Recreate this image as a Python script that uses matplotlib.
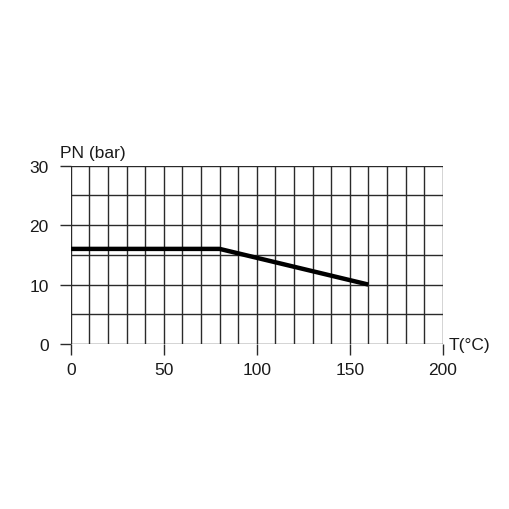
import matplotlib.pyplot as plt
import numpy as np

plt.rcParams['font.family'] = ['Liberation Sans', 'DejaVu Sans']

# pressure rating vs temperature
temp = [0, 80, 160]
pn = [16, 16, 10]

x_major = [0, 50, 100, 150, 200]
y_major = [0, 10, 20, 30]

fig = plt.figure(figsize=(5.1, 5.1), dpi=100)
ax = fig.add_axes([0.139, 0.3235, 0.729, 0.3497])

gc = '#2a2a2a'
ax.set_xlim(0, 200)
ax.set_ylim(0, 30)
ax.set_xticks(x_major)
ax.set_yticks(y_major)
ax.set_xticks(np.arange(0, 201, 10), minor=True)
ax.set_yticks(np.arange(0, 31, 5), minor=True)
ax.grid(which='both', color=gc, linewidth=1.0)
ax.tick_params(which='major', length=8, width=1.0, color=gc,
               labelsize=12.5, labelcolor='#1a1a1a')
ax.tick_params(axis='x', which='major', pad=5)
ax.tick_params(axis='y', which='major', pad=8)
ax.tick_params(which='minor', length=0)
for s in ax.spines.values():
    s.set_visible(False)

ax.plot(temp, pn, color='black', linewidth=3.2, solid_capstyle='butt', zorder=5)

ax.text(-6, 31, 'PN (bar)', fontsize=12.5, ha='left', va='bottom', color='#1a1a1a')
ax.text(203, 0, 'T(°C)', fontsize=12.5, ha='left', va='center', color='#1a1a1a')

plt.savefig('out.png', dpi=100)
